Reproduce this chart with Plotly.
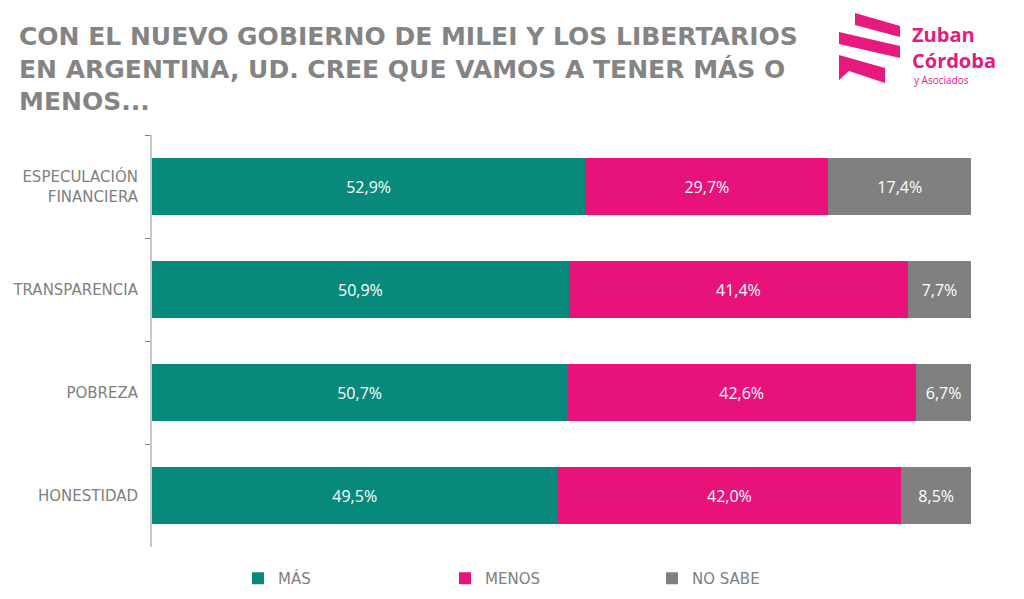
import plotly.graph_objects as go

categories = ["ESPECULACIÓN<br>FINANCIERA", "TRANSPARENCIA", "POBREZA", "HONESTIDAD"]
mas = [52.9, 50.9, 50.7, 49.5]
menos = [29.7, 41.4, 42.6, 42.0]
no_sabe = [17.4, 7.7, 6.7, 8.5]
series_names = ["MÁS", "MENOS", "NO SABE"]
colors = ["#078a7b", "#e8137a", "#808080"]

OFF = 8  # page body margin
W, H = 1024 - OFF, 599 - OFF
# plot area in page pixels: x 152..971, y 135..547
PX0, PX1, PY0, PY1 = 152, 971, 135, 547
ML, MT = PX0 - OFF, PY0 - OFF
MR, MB = W - (PX1 - OFF), H - (PY1 - OFF)

def fmt(v):
    return f"{v:.1f}".replace(".", ",") + "%"

fig = go.Figure()
for name, vals, col in zip(series_names, [mas, menos, no_sabe], colors):
    fig.add_trace(go.Bar(
        y=categories, x=vals, name=name, orientation="h",
        marker=dict(color=col, line=dict(width=0)),
        text=[fmt(v) for v in vals], textposition="inside",
        insidetextanchor="middle",
        textfont=dict(color="white", size=16, family="Open Sans"),
        width=0.56, hoverinfo="skip",
    ))

def px_x(p):
    return (p - PX0) / (PX1 - PX0)

def px_y(p):
    return (PY1 - p) / (PY1 - PY0)

def cx(p):
    return (p - OFF) / W

def cy(p):
    return 1 - (p - OFF) / H

logo = "#e8197d"

def poly(points):
    s = "M " + " L ".join(f"{px_x(x):.5f},{px_y(y):.5f}" for x, y in points) + " Z"
    return dict(type="path", xref="paper", yref="paper", path=s,
                fillcolor=logo, line=dict(width=0), layer="above")

shapes = [
    poly([(855, 13), (900, 26), (900, 37), (855, 25)]),
    poly([(839, 32), (900, 46), (900, 58), (839, 44)]),
    poly([(839, 55), (885, 68), (885, 83), (849, 71), (839, 80)]),
]

fig.update_layout(
    width=W, height=H,
    margin=dict(l=ML, r=MR, t=MT, b=MB, autoexpand=False),
    paper_bgcolor="white", plot_bgcolor="white",
    barmode="stack",
    showlegend=True,
    font=dict(family="DejaVu Sans", color="#808080"),
    title=dict(
        text="CON EL NUEVO GOBIERNO DE MILEI Y LOS LIBERTARIOS<br>EN ARGENTINA, UD. CREE QUE VAMOS A TENER MÁS O<br>MENOS...",
        x=cx(19), xanchor="left", xref="container",
        y=cy(45), yanchor="top", yref="container",
        font=dict(size=25, color="#848484", family="DejaVu Sans", weight="bold"),
    ),
    xaxis=dict(range=[0, 100], visible=False, fixedrange=True),
    yaxis=dict(
        autorange="reversed", showline=True, linecolor="#c8c8c8", linewidth=2,
        ticks="outside", tickson="boundaries", ticklen=5, tickcolor="#808080",
        ticklabelstandoff=9,
        tickfont=dict(size=15, color="#808080", family="DejaVu Sans"),
        showgrid=False, zeroline=False, automargin=False,
    ),
    legend=dict(
        orientation="h", xref="container", yref="container",
        x=cx(238), xanchor="left", y=cy(562), yanchor="top",
        entrywidth=162, entrywidthmode="pixels", itemwidth=30,
        font=dict(size=15, color="#808080", family="DejaVu Sans"),
        traceorder="normal",
    ),
    shapes=shapes,
    annotations=[
        dict(text="<b>Zuban</b><br><b>Córdoba</b>", x=px_x(910), y=px_y(47),
             xref="paper", yref="paper", align="left",
             xanchor="left", yanchor="middle", showarrow=False,
             font=dict(size=20, color=logo, family="Open Sans")),
        dict(text="y Asociados", x=px_x(912), y=px_y(80), xref="paper", yref="paper",
             xanchor="left", yanchor="middle", showarrow=False,
             font=dict(size=10, color=logo, family="Open Sans")),
    ],
)

fig.write_html("out.html")
